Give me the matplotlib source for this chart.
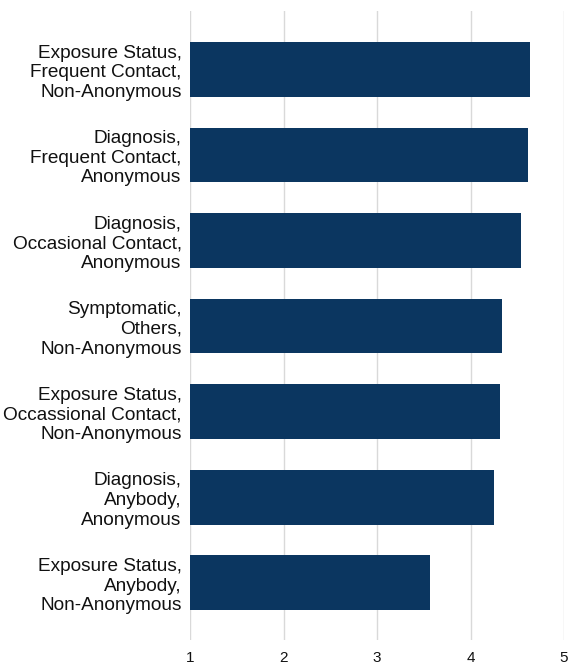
import matplotlib.pyplot as plt
import numpy as np

plt.rcParams['font.family'] = ['Liberation Sans', 'DejaVu Sans']

# categories, top to bottom
labels = [
    "Exposure Status,\nFrequent Contact,\nNon-Anonymous",
    "Diagnosis,\nFrequent Contact,\nAnonymous",
    "Diagnosis,\nOccasional Contact,\nAnonymous",
    "Symptomatic,\nOthers,\nNon-Anonymous",
    "Exposure Status,\nOccassional Contact,\nNon-Anonymous",
    "Diagnosis,\nAnybody,\nAnonymous",
    "Exposure Status,\nAnybody,\nNon-Anonymous",
]
scores = [4.64, 4.62, 4.54, 4.34, 4.32, 4.25, 3.57]
xticks = [1, 2, 3, 4, 5]

fig = plt.figure(figsize=(5.68, 6.64), dpi=100)
ax = fig.add_axes([0.3345, 0.036, 0.6585, 0.947])

y = np.arange(len(labels))
ax.barh(y, np.array(scores) - 1, left=1, height=0.64, color="#0b3660", zorder=3)

ax.set_xlim(1, 5)
ax.set_ylim(len(labels) - 1 + 0.67, -0.68)
ax.set_yticks(y)
ax.set_yticklabels(labels, fontsize=13.7, color="#111111", linespacing=1.2)
ax.set_xticks(xticks)
ax.set_xticklabels([str(t) for t in xticks], fontsize=11, color="#111111")
ax.tick_params(axis="both", length=0)
ax.tick_params(axis="y", pad=6)
ax.tick_params(axis="x", pad=8)

ax.grid(axis="x", color="#d9d9d9", linewidth=1, zorder=0)
for s in ax.spines.values():
    s.set_visible(False)

fig.savefig("out.png", dpi=100)
